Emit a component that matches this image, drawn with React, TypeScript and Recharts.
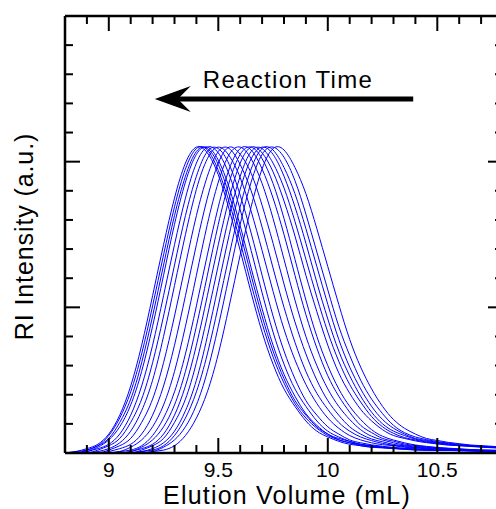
import { LineChart, Line, XAxis, YAxis, ReferenceLine, Label } from 'recharts';

// elution volume grid (mL) shared by every trace
const volumes = [
  8.8, 8.85, 8.9, 8.95, 9, 9.05, 9.1, 9.15, 9.2, 9.25, 9.3, 9.35, 9.4, 9.45, 9.5, 9.55, 9.6, 9.65, 9.7, 9.75,
  9.8, 9.85, 9.9, 9.95, 10, 10.05, 10.1, 10.15, 10.2, 10.25, 10.3, 10.35, 10.4, 10.45, 10.5, 10.55, 10.6, 10.65,
  10.7, 10.75, 10.8,
];

// RI traces, latest sample first (peak at lowest volume)
const trace01 = [0, 0.01, 0.03, 0.06, 0.13, 0.26, 0.46, 0.74, 1.08, 1.43, 1.75, 1.99, 2.1, 2.06, 1.91, 1.67, 1.39, 1.1, 0.83, 0.61, 0.44, 0.32, 0.22, 0.15, 0.11, 0.08, 0.06, 0.05, 0.04, 0.035, 0.03, 0.025, 0.02, 0.02, 0.02, 0.018, 0.016, 0.015, 0.013, 0.012, 0.01];
const trace02 = [0, 0.01, 0.02, 0.05, 0.12, 0.24, 0.42, 0.68, 1.01, 1.36, 1.69, 1.95, 2.09, 2.08, 1.94, 1.72, 1.45, 1.16, 0.89, 0.66, 0.48, 0.34, 0.24, 0.17, 0.12, 0.09, 0.07, 0.05, 0.04, 0.037, 0.032, 0.027, 0.022, 0.02, 0.019, 0.018, 0.016, 0.015, 0.014, 0.013, 0.012];
const trace03 = [0, 0, 0.02, 0.05, 0.1, 0.21, 0.37, 0.62, 0.94, 1.29, 1.63, 1.9, 2.07, 2.09, 1.98, 1.77, 1.51, 1.22, 0.94, 0.7, 0.51, 0.36, 0.26, 0.18, 0.13, 0.09, 0.07, 0.056, 0.046, 0.038, 0.033, 0.028, 0.024, 0.021, 0.02, 0.019, 0.017, 0.016, 0.014, 0.013, 0.012];
const trace04 = [0, 0, 0.01, 0.04, 0.09, 0.18, 0.33, 0.56, 0.87, 1.22, 1.57, 1.86, 2.05, 2.1, 2.01, 1.82, 1.56, 1.27, 0.99, 0.74, 0.54, 0.39, 0.27, 0.19, 0.13, 0.1, 0.08, 0.06, 0.05, 0.04, 0.034, 0.029, 0.025, 0.022, 0.02, 0.019, 0.018, 0.016, 0.015, 0.014, 0.013];
const trace05 = [0, 0, 0.01, 0.03, 0.06, 0.13, 0.26, 0.46, 0.74, 1.08, 1.43, 1.75, 1.99, 2.1, 2.06, 1.91, 1.67, 1.39, 1.1, 0.83, 0.61, 0.44, 0.32, 0.22, 0.15, 0.11, 0.08, 0.06, 0.05, 0.04, 0.035, 0.03, 0.026, 0.022, 0.02, 0.019, 0.018, 0.016, 0.015, 0.014, 0.013];
const trace06 = [0, 0, 0, 0.02, 0.05, 0.1, 0.21, 0.37, 0.62, 0.94, 1.29, 1.63, 1.9, 2.07, 2.09, 1.98, 1.77, 1.51, 1.22, 0.94, 0.7, 0.51, 0.36, 0.26, 0.18, 0.13, 0.09, 0.07, 0.056, 0.046, 0.038, 0.033, 0.028, 0.024, 0.021, 0.02, 0.019, 0.017, 0.016, 0.014, 0.013];
const trace07 = [0, 0, 0, 0.01, 0.03, 0.07, 0.15, 0.29, 0.5, 0.8, 1.15, 1.5, 1.81, 2.02, 2.1, 2.04, 1.89, 1.66, 1.39, 1.11, 0.85, 0.64, 0.47, 0.34, 0.24, 0.17, 0.12, 0.09, 0.07, 0.057, 0.05, 0.04, 0.034, 0.03, 0.025, 0.02, 0.019, 0.018, 0.017, 0.016, 0.015];
const trace08 = [0, 0, 0, 0, 0.02, 0.05, 0.1, 0.21, 0.37, 0.62, 0.94, 1.29, 1.63, 1.9, 2.07, 2.09, 1.98, 1.8, 1.55, 1.27, 1.0, 0.76, 0.56, 0.41, 0.3, 0.21, 0.15, 0.11, 0.085, 0.066, 0.053, 0.044, 0.037, 0.032, 0.028, 0.023, 0.02, 0.019, 0.018, 0.017, 0.016];
const trace09 = [0, 0, 0, 0, 0.01, 0.03, 0.06, 0.13, 0.26, 0.46, 0.74, 1.08, 1.43, 1.75, 1.99, 2.1, 2.05, 1.92, 1.7, 1.44, 1.16, 0.9, 0.68, 0.5, 0.36, 0.26, 0.18, 0.13, 0.096, 0.077, 0.059, 0.05, 0.04, 0.035, 0.03, 0.026, 0.021, 0.019, 0.018, 0.017, 0.016];
const trace10 = [0, 0, 0, 0, 0, 0.01, 0.04, 0.09, 0.18, 0.33, 0.56, 0.87, 1.22, 1.57, 1.86, 2.05, 2.1, 2.02, 1.85, 1.61, 1.33, 1.05, 0.8, 0.6, 0.44, 0.32, 0.23, 0.16, 0.115, 0.089, 0.07, 0.055, 0.046, 0.038, 0.033, 0.029, 0.024, 0.02, 0.019, 0.018, 0.017];
const trace11 = [0, 0, 0, 0, 0, 0.01, 0.02, 0.05, 0.12, 0.24, 0.42, 0.68, 1.01, 1.36, 1.69, 1.95, 2.09, 2.08, 1.95, 1.75, 1.5, 1.22, 0.95, 0.72, 0.53, 0.39, 0.28, 0.19, 0.14, 0.1, 0.081, 0.062, 0.051, 0.042, 0.036, 0.031, 0.027, 0.022, 0.019, 0.018, 0.017];
const trace12 = [0, 0, 0, 0, 0, 0, 0.01, 0.04, 0.09, 0.18, 0.33, 0.56, 0.87, 1.22, 1.57, 1.86, 2.05, 2.1, 2.02, 1.85, 1.61, 1.33, 1.05, 0.8, 0.6, 0.44, 0.32, 0.23, 0.16, 0.115, 0.089, 0.07, 0.055, 0.046, 0.038, 0.033, 0.029, 0.024, 0.02, 0.019, 0.018];
const trace13 = [0, 0, 0, 0, 0, 0, 0.01, 0.03, 0.06, 0.13, 0.26, 0.46, 0.74, 1.08, 1.43, 1.75, 1.99, 2.1, 2.06, 1.93, 1.73, 1.49, 1.22, 0.97, 0.74, 0.55, 0.41, 0.3, 0.22, 0.16, 0.12, 0.1, 0.083, 0.071, 0.062, 0.054, 0.05, 0.045, 0.04, 0.036, 0.033];
const trace14 = [0, 0, 0, 0, 0, 0, 0, 0.02, 0.05, 0.1, 0.21, 0.37, 0.62, 0.94, 1.29, 1.63, 1.9, 2.07, 2.09, 1.99, 1.82, 1.59, 1.33, 1.07, 0.83, 0.63, 0.47, 0.35, 0.25, 0.18, 0.135, 0.106, 0.089, 0.075, 0.066, 0.057, 0.051, 0.047, 0.042, 0.038, 0.034];
const trace15 = [0, 0, 0, 0, 0, 0, 0, 0.01, 0.03, 0.07, 0.15, 0.29, 0.5, 0.8, 1.15, 1.5, 1.81, 2.02, 2.1, 2.05, 1.9, 1.69, 1.44, 1.17, 0.92, 0.7, 0.53, 0.39, 0.28, 0.2, 0.15, 0.12, 0.095, 0.08, 0.07, 0.06, 0.053, 0.049, 0.044, 0.04, 0.035];
const trace16 = [0, 0, 0, 0, 0, 0, 0, 0.01, 0.02, 0.05, 0.12, 0.24, 0.42, 0.68, 1.01, 1.36, 1.69, 1.95, 2.09, 2.08, 1.96, 1.78, 1.54, 1.28, 1.02, 0.78, 0.59, 0.44, 0.32, 0.23, 0.17, 0.13, 0.1, 0.086, 0.073, 0.064, 0.055, 0.05, 0.046, 0.041, 0.037];
const trace17 = [0, 0, 0, 0, 0, 0, 0, 0, 0.01, 0.04, 0.09, 0.18, 0.33, 0.56, 0.87, 1.22, 1.57, 1.86, 2.05, 2.1, 2.03, 1.87, 1.64, 1.38, 1.12, 0.87, 0.67, 0.5, 0.37, 0.27, 0.19, 0.14, 0.11, 0.092, 0.078, 0.068, 0.059, 0.052, 0.048, 0.043, 0.039];
const trace18 = [0, 0, 0, 0, 0, 0, 0, 0, 0.01, 0.02, 0.05, 0.12, 0.24, 0.42, 0.68, 1.01, 1.36, 1.69, 1.95, 2.09, 2.08, 1.96, 1.78, 1.54, 1.28, 1.02, 0.78, 0.59, 0.44, 0.32, 0.23, 0.17, 0.13, 0.1, 0.086, 0.073, 0.064, 0.055, 0.05, 0.046, 0.041];

const traces = [
  trace01, trace02, trace03, trace04, trace05, trace06, trace07, trace08, trace09,
  trace10, trace11, trace12, trace13, trace14, trace15, trace16, trace17, trace18,
];

const xTicks = [8.8, 8.9, 9, 9.1, 9.2, 9.3, 9.4, 9.5, 9.6, 9.7, 9.8, 9.9, 10, 10.1, 10.2, 10.3, 10.4, 10.5, 10.6, 10.7, 10.8];
const xLabels = [9, 9.5, 10, 10.5];
const yTicks = [0, 0.2, 0.4, 0.6, 0.8, 1, 1.2, 1.4, 1.6, 1.8, 2, 2.2, 2.4, 2.6, 2.8, 3];
const yMajor = [0, 1, 2, 3];

// arrow annotation (data units)
const arrowFrom = 10.39;
const arrowTo = 9.21;
const arrowLevel = 2.43;

const rows = volumes.map((v, i) => {
  const row: Record<string, number> = { v };
  traces.forEach((t, j) => {
    row['s' + j] = t[i];
  });
  return row;
});

const isIn = (v: number, list: number[]) => list.some((m) => Math.abs(m - v) < 1e-6);

function BottomTick({ x, y, payload }: any) {
  const major = isIn(payload.value, xLabels);
  return (
    <g>
      <line x1={x} y1={y} x2={x} y2={y - (major ? 15 : 8)} stroke="#000" strokeWidth={2} />
      {major && (
        <text x={x} y={y + 24} textAnchor="middle" fontSize={21} fill="#000">
          {payload.value}
        </text>
      )}
    </g>
  );
}

function TopTick({ x, y, payload }: any) {
  const major = isIn(payload.value, xLabels);
  return <line x1={x} y1={y} x2={x} y2={y + (major ? 15 : 8)} stroke="#000" strokeWidth={2} />;
}

function LeftTick({ x, y, payload }: any) {
  const major = isIn(payload.value, yMajor);
  return <line x1={x} y1={y} x2={x + (major ? 15 : 8)} y2={y} stroke="#000" strokeWidth={2} />;
}

function RightTick({ x, y, payload }: any) {
  const major = isIn(payload.value, yMajor);
  return <line x1={x} y1={y} x2={x - (major ? 15 : 8)} y2={y} stroke="#000" strokeWidth={2} />;
}

function ArrowShape(p: any) {
  const tip = Math.min(p.x1, p.x2);
  const tail = Math.max(p.x1, p.x2);
  const y = p.y1;
  return (
    <g>
      <line x1={tail} y1={y} x2={tip + 22} y2={y} stroke="#000" strokeWidth={5} />
      <polygon
        points={`${tip},${y} ${tip + 36},${y - 13} ${tip + 23},${y} ${tip + 36},${y + 13}`}
        fill="#000"
      />
      <text x={(tip + tail) / 2 + 4} y={y - 11} textAnchor="middle" fontSize={24} letterSpacing={1.3} fill="#000">
        Reaction Time
      </text>
    </g>
  );
}

const axisStroke = { stroke: '#000', strokeWidth: 2.5 };

export default function App() {
  return (
    <div
      style={{
        width: 496,
        height: 509,
        overflow: 'hidden',
        background: '#fff',
        fontFamily: '"Liberation Sans", Arial, sans-serif',
      }}
    >
      <style>{'body{margin:0}'}</style>
      <LineChart width={510} height={509} data={rows} margin={{ top: 15, right: 6, bottom: 55, left: 64 }}>
        <XAxis
          dataKey="v"
          type="number"
          domain={[8.8, 10.8]}
          ticks={xTicks}
          interval={0}
          allowDataOverflow
          height={1}
          tickSize={0}
          tickMargin={0}
          tickLine={false}
          axisLine={axisStroke}
          tick={BottomTick}
        >
          <Label
            content={(p: any) => {
              const vb = p.viewBox;
              return (
                <text x={vb.x + vb.width / 2 + 3} y={vb.y + 51} textAnchor="middle" fontSize={25} letterSpacing={1.2} fill="#000">
                  Elution Volume (mL)
                </text>
              );
            }}
          />
        </XAxis>
        <XAxis
          xAxisId="top"
          dataKey="v"
          orientation="top"
          type="number"
          domain={[8.8, 10.8]}
          ticks={xTicks}
          interval={0}
          allowDataOverflow
          height={1}
          tickSize={0}
          tickMargin={0}
          tickLine={false}
          axisLine={axisStroke}
          tick={TopTick}
        />
        <YAxis
          type="number"
          domain={[0, 3]}
          ticks={yTicks}
          interval={0}
          allowDataOverflow
          width={1}
          tickSize={0}
          tickMargin={0}
          tickLine={false}
          axisLine={axisStroke}
          tick={LeftTick}
        >
          <Label
            content={(p: any) => {
              const vb = p.viewBox;
              const cx = vb.x + vb.width - 32;
              const cy = vb.y + vb.height / 2 + 2;
              return (
                <text
                  x={cx}
                  y={cy}
                  transform={`rotate(-90 ${cx} ${cy})`}
                  textAnchor="middle"
                  fontSize={25}
                  letterSpacing={0.9}
                  fill="#000"
                >
                  RI Intensity (a.u.)
                </text>
              );
            }}
          />
        </YAxis>
        <YAxis
          yAxisId="right"
          orientation="right"
          type="number"
          domain={[0, 3]}
          ticks={yTicks}
          interval={0}
          allowDataOverflow
          width={1}
          tickSize={0}
          tickMargin={0}
          tickLine={false}
          axisLine={axisStroke}
          tick={RightTick}
        />
        {traces.map((_, j) => (
          <Line
            key={j}
            dataKey={'s' + j}
            type="natural"
            stroke="#0000ff"
            strokeWidth={1}
            dot={false}
            activeDot={false}
            isAnimationActive={false}
          />
        ))}
        <ReferenceLine
          segment={[
            { x: arrowFrom, y: arrowLevel },
            { x: arrowTo, y: arrowLevel },
          ]}
          shape={ArrowShape}
        />
      </LineChart>
    </div>
  );
}
